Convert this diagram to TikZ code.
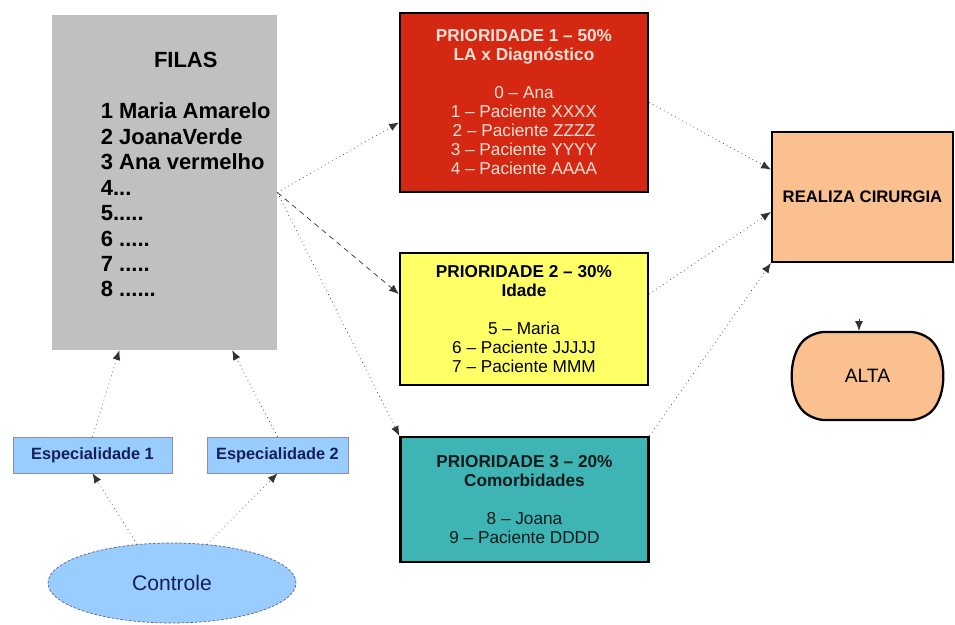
\documentclass[tikz,border=0pt]{standalone}
\usepackage{fontspec}
\setmainfont{Liberation Sans}
\usepackage{tikz}
\usetikzlibrary{shapes}
\usetikzlibrary{arrows.meta}
\usetikzlibrary{shapes.misc}
\usetikzlibrary{shapes.geometric}
\usetikzlibrary{positioning}
\usetikzlibrary{calc,backgrounds}
\definecolor{vermelho}{RGB}{212,40,18}
\definecolor{rosado}{RGB}{250,224,214}
\definecolor{amarelo}{RGB}{255,255,102}
\definecolor{verde}{RGB}{62,180,180}
\definecolor{pessego}{RGB}{250,192,144}
\definecolor{azul}{RGB}{153,204,255}
\definecolor{marinho}{RGB}{22,32,82}
\definecolor{cinza}{RGB}{192,192,192}
\tikzstyle{fila}=[fill=cinza, minimum width=4.5cm, minimum height=6.7cm,
  inner sep=0pt, font=\fontsize{12.5}{14.5}\selectfont\bfseries]
\tikzstyle{prioridade}=[draw, line width=1.3pt, minimum width=4.96cm,
  align=center, inner sep=2pt, font=\fontsize{9.8}{10.8}\selectfont]
\tikzstyle{especialidade}=[draw=marinho!50, fill=azul, minimum height=0.72cm,
  inner sep=1pt, text=marinho, font=\fontsize{9.3}{11}\selectfont\bfseries]
\tikzstyle{controle}=[ellipse, draw=marinho!70, dash pattern=on 1.5pt off 1pt,
  fill=azul, minimum width=4.96cm, minimum height=1.6cm, inner sep=0pt,
  text=marinho, font=\fontsize{12}{14}\selectfont]
\tikzstyle{cirurgia}=[draw, line width=1.3pt, fill=pessego, minimum width=3.62cm,
  minimum height=2.6cm, font=\fontsize{9.5}{11}\selectfont\bfseries]
\tikzstyle{alta}=[rounded rectangle, rounded rectangle arc length=90,
  rounded corners=7pt, draw, line width=1.3pt, fill=pessego,
  minimum width=3.18cm, minimum height=1.76cm, font=\fontsize{11}{13}\selectfont]
\tikzstyle{line} = [draw, black!80, dotted, -{Latex[length=5.5pt,width=4.5pt]}]
\newcommand{\prio}[3]{node (p#1) [prioridade, fill=#2, minimum height=#3]}

\begin{document}
\begin{tikzpicture}
    \useasboundingbox (0,0) rectangle (19.1,12.5);

    % Draw diagram elements
    \path (3.29,8.85) node (filas) [fila] {\begin{tabular}{@{\hspace{0.85cm}}l@{}}
      \multicolumn{1}{@{\hspace{0.85cm}}c@{}}{FILAS}\\[14.5pt]
      1 Maria Amarelo\\ 2 JoanaVerde\\ 3 Ana vermelho\\ 4...\\
      5.....\\ 6 .....\\ 7 .....\\ 8 ......\\[6pt]
    \end{tabular}};
    \path (10.48,10.45) \prio{1}{vermelho}{3.58cm} [text=rosado]
      {\textbf{PRIORIDADE 1 -- 50\%}\\ \textbf{LA x Diagnóstico}\\[10.8pt]
       0 -- Ana\\ 1 -- Paciente XXXX\\ 2 -- Paciente ZZZZ\\
       3 -- Paciente YYYY\\ 4 -- Paciente AAAA};
    \path (10.48,6.12) \prio{2}{amarelo}{2.64cm}
      {\textbf{PRIORIDADE 2 -- 30\%}\\ \textbf{Idade}\\[10.8pt]
       5 -- Maria\\ 6 -- Paciente JJJJJ\\ 7 -- Paciente MMM};
    \path (10.49,2.51) \prio{3}{verde}{2.5cm} [text=black!85!verde]
      {\textbf{PRIORIDADE 3 -- 20\%}\\ \textbf{Comorbidades}\\[10.8pt]
       8 -- Joana\\ 9 -- Paciente DDDD};
    \path (17.25,8.56) node (cir) [cirurgia] {REALIZA CIRURGIA};
    \path (17.35,4.98) node (alta) [alta] {ALTA};
    \path (1.85,3.4) node (esp1) [especialidade, minimum width=3.18cm] {Especialidade 1};
    \path (5.55,3.4) node (esp2) [especialidade, minimum width=2.82cm] {Especialidade 2};
    \path (3.44,0.84) node (ctrl) [controle] {Controle};
    \coordinate (altain) at ([xshift=-0.17cm,yshift=0.24cm]alta.north);

    % Draw arrows between elements
    \path [line] (ctrl.132) -- (esp1.south);
    \path [line] (ctrl.48) -- (esp2.south);
    \path [line] (esp1.north) -- ($(filas.south west)!0.3!(filas.south east)$);
    \path [line] (esp2.north) -- ($(filas.south west)!0.8!(filas.south east)$);
    \path [line] ([yshift=-0.2cm]filas.east) -- ([yshift=-0.4cm]p1.west);
    \path [line, dash pattern=on 3pt off 2.5pt] ([yshift=-0.2cm]filas.east) -- ([yshift=0.5cm]p2.west);
    \path [line] ([yshift=-0.2cm]filas.east) -- (p3.north west);
    \path [line] (p1.east) -- ([yshift=0.55cm]cir.west);
    \path [line] ([yshift=0.5cm]p2.east) -- ([yshift=-0.3cm]cir.west);
    \path [line] (p3.north east) -- (cir.south west);
    \path [line, solid] (altain) -- (altain |- alta.north);

\end{tikzpicture}
\end{document}
